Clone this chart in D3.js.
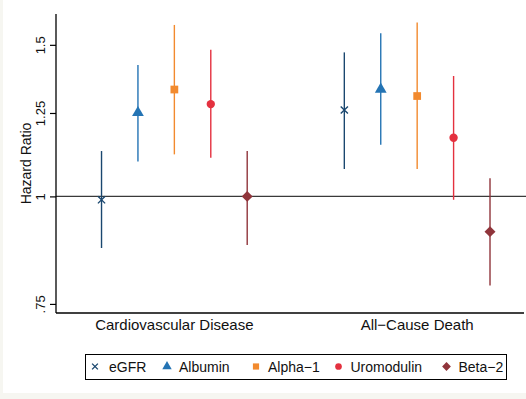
<!DOCTYPE html>
<html>
<head>
<script src="https://d3js.org/d3.v7.min.js"></script>
<style>
  body { margin: 0; background: #f6f6f1; }
  svg { display: block; font-family: "Liberation Sans", Arial, sans-serif; }
</style>
</head>
<body>
<svg width="526" height="399"></svg>
<script>
// outcomes, markers, hazard ratios with 95% CI
var groups = ["Cardiovascular Disease", "All\u2212Cause Death"];
var series = ["eGFR", "Albumin", "Alpha\u22121", "Uromodulin", "Beta\u22122"];
var colors = ["#1a476f", "#2474b4", "#f28a2e", "#e4313f", "#90353b"];
var symbols = [d3.symbolCross, d3.symbolTriangle, d3.symbolSquare, d3.symbolCircle, d3.symbolDiamond];

var hr    = [[0.991, 1.251, 1.331, 1.280, 1.000], [1.260, 1.332, 1.308, 1.170, 0.910]];
var lower = [[0.871, 1.098, 1.119, 1.109, 0.878], [1.076, 1.148, 1.076, 0.991, 0.788]];
var upper = [[1.129, 1.421, 1.582, 1.480, 1.129], [1.470, 1.547, 1.592, 1.380, 1.050]];

var yTicks = [0.75, 1, 1.25, 1.5];
var yTickLabels = [".75", "1", "1.25", "1.5"];

var svg = d3.select("svg");

// white graph area
svg.append("rect").attr("x", 3).attr("y", 0).attr("width", 523).attr("height", 393).attr("fill", "white");

var pLeft = 56, pRight = 524, pTop = 14, pBottom = 313;
var x = d3.scaleLinear().domain([0.5125, 2.44]).range([pLeft, pRight]);
var y = d3.scaleLog().domain([0.732, 1.629]).range([pBottom, pTop]);
var step = 0.15;

function px(g, s) { return x(g + 1 + (s - 2) * step); }

// reference line at 1
svg.append("line")
  .attr("x1", pLeft).attr("x2", 526)
  .attr("y1", y(1)).attr("y2", y(1))
  .attr("stroke", "#3a3a3a").attr("stroke-width", 1.1);

// y axis
var yAxis = svg.append("g")
  .attr("transform", "translate(" + pLeft + ",0)")
  .call(d3.axisLeft(y).tickValues(yTicks).tickSize(6)
    .tickFormat(function(d, i) { return yTickLabels[i]; }));
yAxis.select(".domain").attr("d", "M0," + pTop + "V" + pBottom).attr("stroke-width", 1.3);
yAxis.selectAll(".tick line").attr("stroke-width", 1.2);
yAxis.selectAll(".tick text")
  .attr("transform", "rotate(-90)")
  .attr("x", 0).attr("y", -11)
  .attr("dy", 0)
  .style("text-anchor", "middle")
  .style("font-size", "13px")
  .style("font-family", "'Liberation Sans', Arial, sans-serif")
  .attr("fill", "#111");

svg.append("text")
  .attr("transform", "translate(31," + ((pTop + pBottom) / 2) + ") rotate(-90)")
  .style("text-anchor", "middle")
  .style("font-size", "14px")
  .attr("fill", "#111")
  .text("Hazard Ratio");

// x axis
svg.append("line")
  .attr("x1", pLeft).attr("x2", pRight)
  .attr("y1", pBottom).attr("y2", pBottom)
  .attr("stroke", "black").attr("stroke-width", 1.3);

svg.selectAll(".glabel").data(groups).enter().append("text")
  .attr("class", "glabel")
  .attr("x", function(d, i) { return x(i + 1); })
  .attr("y", pBottom + 17)
  .style("text-anchor", "middle")
  .style("font-size", "15px")
  .attr("fill", "#111")
  .text(function(d) { return d; });

// points
var pts = [];
groups.forEach(function(g, gi) {
  series.forEach(function(s, si) {
    pts.push({ g: gi, s: si, hr: hr[gi][si], lo: lower[gi][si], hi: upper[gi][si] });
  });
});

svg.selectAll(".ci").data(pts).enter().append("line")
  .attr("x1", function(d) { return px(d.g, d.s); })
  .attr("x2", function(d) { return px(d.g, d.s); })
  .attr("y1", function(d) { return y(d.lo); })
  .attr("y2", function(d) { return y(d.hi); })
  .attr("stroke", function(d) { return colors[d.s]; })
  .attr("stroke-width", 1.4);

var sizes = [40, 60, 60, 55, 60];

function drawMarker(sel, si, cx, cy, scale) {
  if (si === 0) {
    var r = 3.6 * scale;
    sel.append("path")
      .attr("d", "M" + (cx - r) + "," + (cy - r) + "L" + (cx + r) + "," + (cy + r) +
                 "M" + (cx - r) + "," + (cy + r) + "L" + (cx + r) + "," + (cy - r))
      .attr("stroke", colors[0]).attr("stroke-width", 1.4).attr("fill", "none");
  } else {
    var t = "translate(" + cx + "," + cy + ")";
    var sym = si === 4 ? d3.symbolSquare : symbols[si];
    if (si === 4) t += " rotate(45)";
    sel.append("path")
      .attr("d", d3.symbol().type(sym).size(sizes[si] * scale * scale)())
      .attr("transform", t)
      .attr("fill", colors[si]);
  }
}

pts.forEach(function(d) {
  drawMarker(svg, d.s, px(d.g, d.s), y(d.hr), 1);
});

// legend
svg.append("rect")
  .attr("x", 85.5).attr("y", 354.5).attr("width", 421).attr("height", 25)
  .attr("fill", "white").attr("stroke", "black").attr("stroke-width", 1);

var legX = [95, 167, 256, 338.5, 446.5];
var lg = svg.append("g");
series.forEach(function(s, i) {
  drawMarker(lg, i, legX[i], 366.5, 0.8);
  lg.append("text")
    .attr("x", legX[i] + (i === 0 ? 14 : 12))
    .attr("y", 371.5)
    .style("font-size", "14px")
    .attr("fill", "#111")
    .text(s);
});
</script>
</body>
</html>
